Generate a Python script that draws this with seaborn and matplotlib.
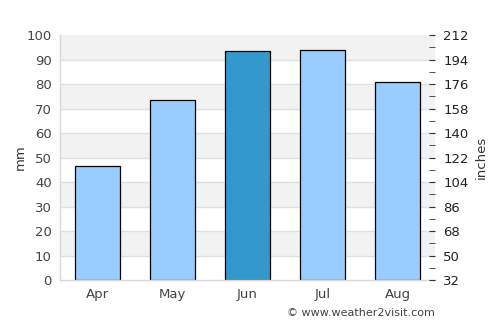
import matplotlib
matplotlib.use("Agg")
import matplotlib.pyplot as plt
import seaborn as sns
import pandas as pd

# データ
months = ["Apr", "May", "Jun", "Jul", "Aug"]
rain_mm = [46.5, 73.7, 93.7, 94.1, 80.7]
bar_colors = ["#99ccff", "#99ccff", "#3399cc", "#99ccff", "#99ccff"]
right_ticks = [32, 50, 68, 86, 104, 122, 140, 158, 176, 194, 212]

df = pd.DataFrame({"month": months, "mm": rain_mm})

sns.set_style("white")
plt.rcParams["font.family"] = ["DejaVu Sans"]

fig = plt.figure(figsize=(5, 3.25), dpi=100)
ax = fig.add_axes([0.12, 0.138, 0.75, 0.754])

# 背景の縞模様
for lo in range(10, 100, 20):
    ax.axhspan(lo, lo + 10, color="#f2f2f2", zorder=0, lw=0)
for y in range(10, 100, 10):
    ax.axhline(y, color="#e0e0e0", lw=1, zorder=0.5)

sns.barplot(data=df, x="month", y="mm", hue="month", palette=bar_colors,
            legend=False, width=0.6, edgecolor="black", linewidth=0.9,
            saturation=1, ax=ax, zorder=2)

ax.set_xlim(-0.5, 4.5)
ax.set_ylim(0, 100)
ax.set_yticks(range(0, 101, 10))
ax.set_xlabel("")
ax.set_ylabel("mm", fontsize=9.5, color="#333333", labelpad=0)
ax.tick_params(axis="both", labelsize=9.5, colors="#444444", length=0, pad=6)
ax.tick_params(axis="x", pad=6)

for side in ["top", "right"]:
    ax.spines[side].set_visible(False)
for side in ["left", "bottom"]:
    ax.spines[side].set_color("#d8d8d8")
    ax.spines[side].set_linewidth(1)

# 右軸
ax2 = ax.twinx()
ax2.set_ylim(32, 212)
ax2.set_yticks(right_ticks)
ax2.set_yticks(range(41, 212, 18), minor=True)
ax2.tick_params(axis="y", which="both", direction="in", length=4,
                color="#333333", labelsize=9.5, labelcolor="#222222", pad=6)
ax2.set_ylabel("inches", fontsize=9.5, color="#333333")
for s in ax2.spines.values():
    s.set_visible(False)

fig.text(0.87, 0.02, "© www.weather2visit.com", ha="right", va="bottom",
         fontsize=8, color="#444444")

fig.savefig("out.png", dpi=100)
